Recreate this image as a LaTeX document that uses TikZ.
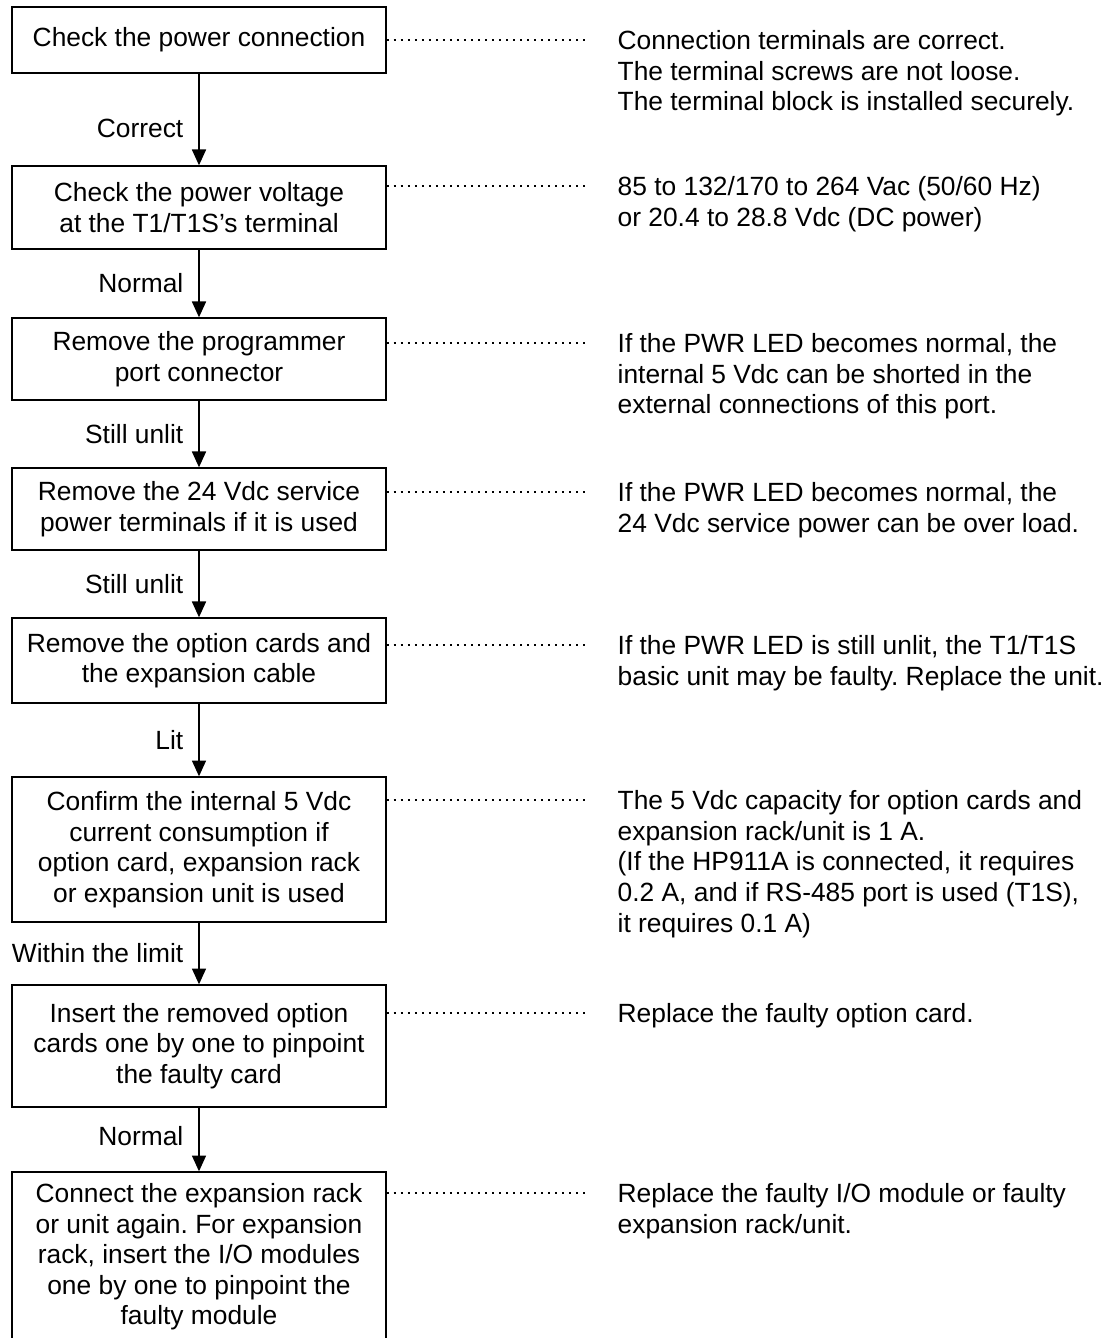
\documentclass[tikz,border=0pt]{standalone}
\usepackage{fontspec}
\setmainfont{Liberation Sans}
\usetikzlibrary{arrows.meta}
\frenchspacing

\begin{document}
\begin{tikzpicture}[
    x=0.02cm, y=-0.02cm,
    >={Triangle[length=9pt,width=8pt]},
    every node/.style={font=\fontsize{15pt}{17.4pt}\selectfont},
    line width=0.8pt,
    stepbox/.style={draw, align=center, minimum width=7.48cm, inner sep=2pt},
    note/.style={anchor=north west, align=left, inner sep=0pt},
    dotline/.style={line width=1.1pt, dash pattern=on 1.1pt off 2.9pt},
    lab/.style={left, inner sep=0pt, xshift=-0.3cm}
]

\def\bx{199}
\def\nx{617}
\def\dx{590}

\useasboundingbox (0,0) rectangle (1116,1338);

% Steps
\node[stepbox, minimum height=1.32cm] (conn) at (\bx,40) {Check the power connection};
\node[stepbox, minimum height=1.66cm] (volt) at (\bx,207.5) {Check the power voltage\\at the T1/T1S's terminal};
\node[stepbox, minimum height=1.64cm] (port) at (\bx,359) {Remove the programmer\\port connector};
\node[stepbox, minimum height=1.64cm] (serv) at (\bx,509) {Remove the 24 Vdc service\\power terminals if it is used};
\node[stepbox, minimum height=1.70cm] (card) at (\bx,660.5) {Remove the option cards and\\the expansion cable};
\node[stepbox, minimum height=2.90cm] (curr) at (\bx,849.5) {Confirm the internal 5 Vdc\\current consumption if\\option card, expansion rack\\or expansion unit is used};
\node[stepbox, minimum height=2.44cm] (ins) at (\bx,1046) {Insert the removed option\\cards one by one to pinpoint\\the faulty card};
\node[stepbox, minimum height=3.40cm] (rack) at (\bx,1257) {Connect the expansion rack\\or unit again. For expansion\\rack, insert the I/O modules\\one by one to pinpoint the\\faulty module};

\draw[->] (conn) -- node[lab, pos=0.6] {Correct} (volt);
\draw[->] (volt) -- node[lab] {Normal} (port);
\draw[->] (port) -- node[lab] {Still unlit} (serv);
\draw[->] (serv) -- node[lab] {Still unlit} (card);
\draw[->] (card) -- node[lab] {Lit} (curr);
\draw[->] (curr) -- node[lab] {Within the limit} (ins);
\draw[->] (ins) -- node[lab, pos=0.45] {Normal} (rack);

% Notes
\node[note] (n1) at (\nx,30) {Connection terminals are correct.\\The terminal screws are not loose.\\The terminal block is installed securely.};
\node[note] (n2) at (\nx,176) {85 to 132/170 to 264 Vac (50/60 Hz)\\or 20.4 to 28.8 Vdc (DC power)};
\node[note] (n3) at (\nx,333) {If the PWR LED becomes normal, the\\internal 5 Vdc can be shorted in the\\external connections of this port.};
\node[note] (n4) at (\nx,482) {If the PWR LED becomes normal, the\\24 Vdc service power can be over load.};
\node[note] (n5) at (\nx,635) {If the PWR LED is still unlit, the T1/T1S\\basic unit may be faulty. Replace the unit.};
\node[note] (n6) at (\nx,790) {The 5 Vdc capacity for option cards and\\expansion rack/unit is 1 A.\\(If the HP911A is connected, it requires\\0.2 A, and if RS-485 port is used (T1S),\\it requires 0.1 A)};
\node[note] (n7) at (\nx,1003) {Replace the faulty option card.};
\node[note] (n8) at (\nx,1183) {Replace the faulty I/O module or faulty\\expansion rack/unit.};

\coordinate (d1) at (\dx,40);
\coordinate (d2) at (\dx,186);
\coordinate (d3) at (\dx,343);
\coordinate (d4) at (\dx,492);
\coordinate (d5) at (\dx,645);
\coordinate (d6) at (\dx,800);
\coordinate (d7) at (\dx,1013);
\coordinate (d8) at (\dx,1193);

\draw[dotline] (conn.east |- d1) -- (d1);
\draw[dotline] (volt.east |- d2) -- (d2);
\draw[dotline] (port.east |- d3) -- (d3);
\draw[dotline] (serv.east |- d4) -- (d4);
\draw[dotline] (card.east |- d5) -- (d5);
\draw[dotline] (curr.east |- d6) -- (d6);
\draw[dotline] (ins.east |- d7) -- (d7);
\draw[dotline] (rack.east |- d8) -- (d8);

\end{tikzpicture}
\end{document}
